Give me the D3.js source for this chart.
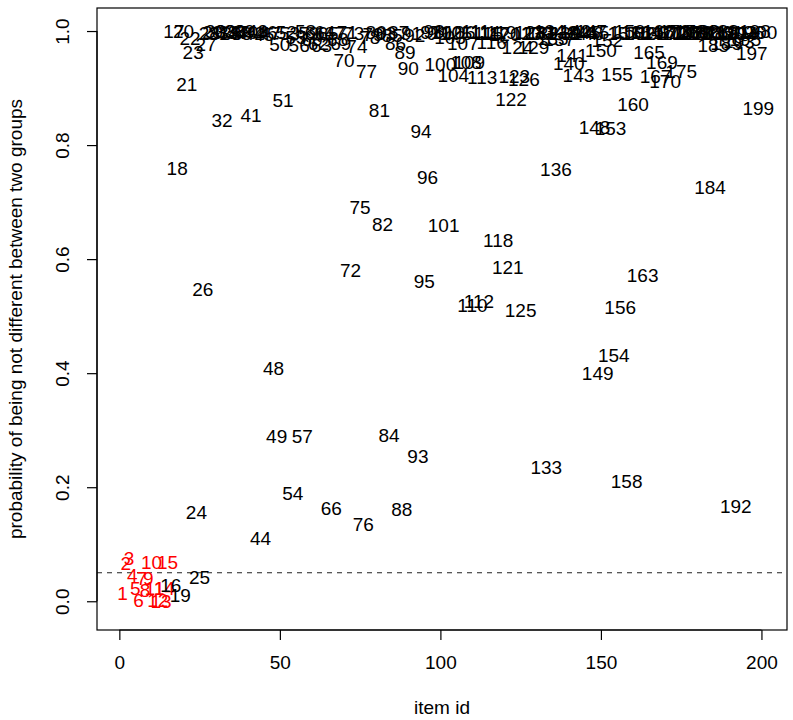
<!DOCTYPE html>
<html>
<head>
<meta charset="utf-8">
<script src="https://cdn.jsdelivr.net/npm/d3@7"></script>
<style>
  html, body { margin: 0; padding: 0; background: #fff; }
  svg text { font-family: "Liberation Sans", Arial, Helvetica, sans-serif; }
</style>
</head>
<body>
<div id="chart"></div>
<script>
// probability values for items 1..200 (item id = position + 1)
const probValues = [
  0.014, 0.066, 0.075, 0.045, 0.023, 0.002, 0.040, 0.019, 0.040, 0.068,
  0.023, 0.002, 0.001, 0.023, 0.068, 0.028, 0.999, 0.760, 0.011, 0.999,
  0.906, 0.988, 0.963, 0.156, 0.042, 0.547, 0.977, 0.996, 0.998, 0.999,
  0.997, 0.843, 0.999, 0.998, 0.997, 0.999, 0.998, 0.996, 0.999, 0.998,
  0.853, 0.997, 0.999, 0.110, 0.994, 0.998, 0.996, 0.409, 0.290, 0.977,
  0.878, 0.998, 0.996, 0.189, 0.990, 0.976, 0.290, 0.999, 0.996, 0.985,
  0.996, 0.978, 0.976, 0.998, 0.997, 0.164, 0.996, 0.985, 0.979, 0.949,
  0.998, 0.580, 0.997, 0.973, 0.691, 0.136, 0.930, 0.990, 0.995, 0.998,
  0.862, 0.661, 0.997, 0.292, 0.993, 0.979, 0.998, 0.161, 0.963, 0.935,
  0.997, 0.993, 0.255, 0.825, 0.561, 0.743, 0.998, 0.999, 0.997, 0.942,
  0.659, 0.998, 0.990, 0.923, 0.997, 0.998, 0.979, 0.945, 0.945, 0.519,
  0.999, 0.526, 0.919, 0.998, 0.996, 0.980, 0.997, 0.633, 0.998, 0.995,
  0.586, 0.881, 0.921, 0.972, 0.510, 0.916, 0.997, 0.998, 0.972, 0.996,
  0.998, 0.997, 0.236, 0.999, 0.988, 0.757, 0.986, 0.998, 0.996, 0.944,
  0.958, 0.999, 0.923, 0.997, 0.998, 0.996, 0.999, 0.832, 0.400, 0.967,
  0.998, 0.984, 0.829, 0.432, 0.925, 0.516, 0.997, 0.210, 0.999, 0.871,
  0.998, 0.996, 0.572, 0.998, 0.963, 0.997, 0.920, 0.999, 0.946, 0.912,
  0.998, 0.996, 0.999, 0.997, 0.930, 0.998, 0.996, 0.999, 0.997, 0.998,
  0.996, 0.999, 0.997, 0.726, 0.976, 0.998, 0.996, 0.999, 0.978, 0.997,
  0.998, 0.166, 0.982, 0.996, 0.985, 0.998, 0.962, 0.999, 0.865, 0.998
];
// items drawn in red (first group)
const redItems = [1,2,3,4,5,6,7,8,9,10,11,12,13,14,15];
const xTicks = [0, 50, 100, 150, 200];
const yTicks = [0.0, 0.2, 0.4, 0.6, 0.8, 1.0];
const yTickLabels = ["0.0", "0.2", "0.4", "0.6", "0.8", "1.0"];
const threshold = [0.05];
const xTitle = "item id";
const yTitle = "probability of being not different between two groups";

const W = 793, H = 720;
const FS = 19;
const box = { left: 97, right: 787, top: 8, bottom: 630 };

const data = probValues.map((v, i) => ({ id: i + 1, p: v }));

const x = d3.scaleLinear().domain([-6.96, 207.96]).range([box.left, box.right]);
const y = d3.scaleLinear().domain([-0.0504, 1.0404]).range([box.bottom, box.top]);

const svg = d3.select("#chart").append("svg")
  .attr("width", W).attr("height", H)
  .attr("viewBox", `0 0 ${W} ${H}`);

svg.append("rect").attr("width", W).attr("height", H).attr("fill", "#fff");

// threshold line
svg.selectAll("line.thr").data(threshold).enter().append("line")
  .attr("class", "thr")
  .attr("x1", box.left).attr("x2", box.right)
  .attr("y1", d => y(d)).attr("y2", d => y(d))
  .attr("stroke", "#222").attr("stroke-width", 1.2)
  .attr("stroke-dasharray", "5,5");

// labels as points
svg.append("g").selectAll("text").data(data).enter().append("text")
  .attr("x", d => x(d.id))
  .attr("y", d => y(d.p))
  .attr("dy", "0.36em")
  .attr("text-anchor", "middle")
  .attr("font-size", FS)
  .attr("fill", d => redItems.includes(d.id) ? "#ff0000" : "#000")
  .text(d => d.id);

// box
svg.append("rect")
  .attr("x", box.left).attr("y", box.top)
  .attr("width", box.right - box.left).attr("height", box.bottom - box.top)
  .attr("fill", "none").attr("stroke", "#000").attr("stroke-width", 1.2);

// x axis
const xAxis = d3.axisBottom(x).tickValues(xTicks).tickSize(10).tickPadding(16).tickFormat(d3.format("d"));
const gx = svg.append("g").attr("transform", `translate(0,${box.bottom})`).call(xAxis);
gx.select(".domain").attr("d", `M${x(xTicks[0])},0H${x(xTicks[xTicks.length-1])}`).attr("stroke-width", 1.2);
gx.selectAll(".tick line").attr("stroke-width", 1.2);
gx.selectAll(".tick text").attr("font-size", FS).attr("fill", "#000")
  .attr("font-family", "'Liberation Sans', Arial, sans-serif");

// y axis
const yAxis = d3.axisLeft(y).tickValues(yTicks).tickSize(10).tickFormat((d, i) => yTickLabels[i]);
const gy = svg.append("g").attr("transform", `translate(${box.left},0)`).call(yAxis);
gy.select(".domain").attr("d", `M0,${y(yTicks[0])}V${y(yTicks[yTicks.length-1])}`).attr("stroke-width", 1.2);
gy.selectAll(".tick line").attr("stroke-width", 1.2);
gy.selectAll(".tick text")
  .attr("font-size", FS).attr("fill", "#000")
  .attr("font-family", "'Liberation Sans', Arial, sans-serif")
  .attr("x", null).attr("dy", null)
  .attr("text-anchor", "middle")
  .attr("transform", "translate(-35,0) rotate(-90)")
  .attr("y", 0).attr("dy", "0.36em");

// titles
svg.append("text")
  .attr("x", (box.left + box.right) / 2).attr("y", 707)
  .attr("dy", "0.36em")
  .attr("text-anchor", "middle").attr("font-size", FS).text(xTitle);

svg.append("text")
  .attr("transform", `translate(15,${(box.top + box.bottom) / 2}) rotate(-90)`)
  .attr("dy", "0.36em")
  .attr("text-anchor", "middle").attr("font-size", FS).text(yTitle);
</script>
</body>
</html>
